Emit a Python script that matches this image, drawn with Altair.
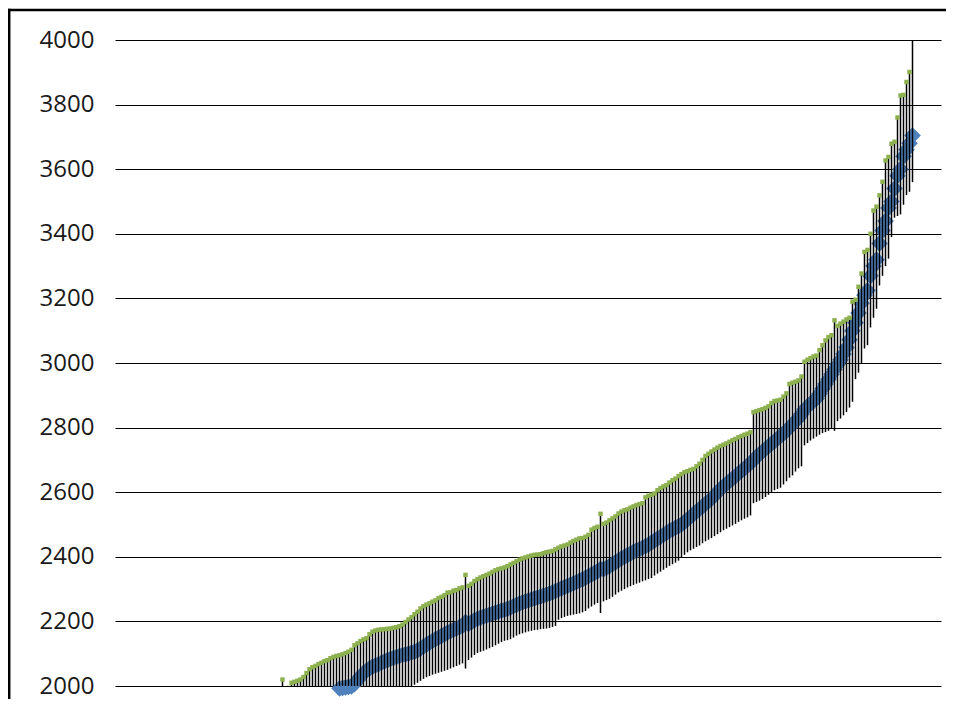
import altair as alt
import pandas as pd

start_index = 56

highs = [
    2020, 1988, 1994, 2010, 2013, 2016, 2020, 2028, 2040, 2052,
    2058, 2062, 2068, 2072, 2077, 2080, 2086, 2090, 2093, 2095,
    2098, 2102, 2106, 2112, 2126, 2132, 2139, 2144, 2148, 2160,
    2168, 2172, 2174, 2175, 2176, 2177, 2178, 2180, 2182, 2185,
    2190, 2198, 2206, 2213, 2222, 2230, 2240, 2247, 2252, 2256,
    2261, 2265, 2272, 2276, 2281, 2289, 2290, 2295, 2297, 2302,
    2305, 2344, 2310, 2316, 2325, 2331, 2336, 2340, 2344, 2348,
    2353, 2358, 2362, 2364, 2367, 2371, 2376, 2381, 2386, 2391,
    2395, 2398, 2401, 2404, 2406, 2407, 2408, 2411, 2414, 2416,
    2418, 2423, 2428, 2432, 2435, 2438, 2444, 2449, 2453, 2457,
    2458, 2462, 2468, 2484, 2489, 2493, 2533, 2502, 2506, 2513,
    2519, 2525, 2534, 2540, 2544, 2547, 2552, 2556, 2560, 2563,
    2566, 2584, 2589, 2592, 2596, 2606, 2613, 2618, 2622, 2630,
    2637, 2642, 2650, 2656, 2662, 2665, 2669, 2672, 2680, 2688,
    2700, 2712, 2719, 2726, 2732, 2738, 2743, 2747, 2751, 2756,
    2761, 2765, 2770, 2774, 2778, 2781, 2786, 2848, 2851, 2854,
    2857, 2861, 2866, 2876, 2882, 2884, 2886, 2896, 2906, 2935,
    2939, 2942, 2946, 2958, 3004, 3010, 3015, 3020, 3023, 3040,
    3055, 3070, 3080, 3086, 3132, 3115, 3122, 3128, 3135, 3140,
    3190, 3196, 3236, 3277, 3344, 3350, 3400, 3472, 3484, 3519,
    3561, 3627, 3638, 3679, 3685, 3760, 3828, 3830, 3870, 3901,
    4060,
]

lows = [
    1790, 1772, 1778, 1795, 1798, 1800, 1804, 1810, 1820, 1832,
    1840, 1845, 1850, 1855, 1860, 1864, 1869, 1873, 1877, 1880,
    1884, 1888, 1892, 1897, 1905, 1911, 1917, 1922, 1927, 1935,
    1942, 1947, 1951, 1955, 1958, 1961, 1964, 1967, 1970, 1974,
    1979, 1984, 1988, 1995, 2004, 2010, 2016, 2022, 2027, 2031,
    2035, 2038, 2041, 2044, 2047, 2050, 2054, 2058, 2062, 2066,
    2070, 2054, 2080, 2088, 2096, 2102, 2106, 2109, 2113, 2117,
    2121, 2126, 2131, 2136, 2140, 2142, 2145, 2150, 2156, 2160,
    2163, 2166, 2169, 2171, 2173, 2174, 2176, 2177, 2178, 2180,
    2183, 2186, 2205, 2210, 2214, 2217, 2219, 2221, 2223, 2225,
    2228, 2232, 2240, 2246, 2252, 2257, 2226, 2262, 2266, 2270,
    2276, 2283, 2290, 2295, 2300, 2305, 2309, 2313, 2317, 2320,
    2324, 2327, 2331, 2334, 2342, 2348, 2354, 2360, 2366, 2372,
    2377, 2382, 2388, 2398, 2406, 2414, 2420, 2425, 2430, 2435,
    2442, 2448, 2453, 2458, 2464, 2470, 2476, 2482, 2487, 2492,
    2497, 2502, 2508, 2513, 2518, 2522, 2528, 2566, 2570, 2574,
    2579, 2585, 2592, 2600, 2606, 2610, 2614, 2624, 2634, 2645,
    2652, 2664, 2674, 2680, 2745, 2752, 2760, 2766, 2772, 2778,
    2783, 2786, 2790, 2798, 2790, 2820, 2828, 2838, 2848, 2862,
    2880, 2950, 2970, 3000, 3045, 3055, 3110, 3140, 3168, 3240,
    3270, 3300, 3323, 3390, 3450, 3455, 3460, 3490, 3520, 3530,
    3560,
]

means = [
    None, None, None, None, None, None, None, None, None, None,
    None, None, None, None, None, None, None, None, None, 1993,
    1994, 1996, 1997, 1999, 2006, 2018, 2030, 2040, 2048, 2054,
    2060, 2064, 2068, 2072, 2076, 2080, 2084, 2087, 2090, 2093,
    2096, 2098, 2100, 2103, 2106, 2110, 2116, 2122, 2128, 2134,
    2140, 2145, 2150, 2155, 2160, 2165, 2170, 2174, 2178, 2182,
    2186, 2198, 2192, 2198, 2204, 2208, 2212, 2215, 2218, 2221,
    2224, 2227, 2230, 2233, 2236, 2239, 2243, 2247, 2251, 2255,
    2259, 2262, 2265, 2268, 2271, 2274, 2277, 2280, 2283, 2286,
    2290, 2294, 2298, 2302, 2306, 2310, 2314, 2318, 2322, 2326,
    2330, 2335, 2340, 2345, 2350, 2355, 2362, 2362, 2366, 2371,
    2377, 2383, 2389, 2395, 2400, 2405, 2410, 2415, 2420, 2424,
    2428, 2433, 2438, 2444, 2450, 2456, 2462, 2468, 2474, 2480,
    2485, 2490, 2495, 2500, 2508, 2516, 2524, 2532, 2540, 2548,
    2556, 2564, 2572, 2580, 2590, 2600, 2610, 2618, 2626, 2634,
    2642, 2650, 2658, 2666, 2674, 2682, 2690, 2700, 2710, 2718,
    2726, 2734, 2742, 2750, 2758, 2766, 2774, 2782, 2790, 2800,
    2810, 2820, 2830, 2842, 2856, 2866, 2874, 2882, 2890, 2905,
    2920, 2935, 2950, 2965, 2980, 2995, 3010, 3028, 3048, 3072,
    3100, 3125, 3155, 3185, 3210, 3225, 3270, 3300, 3320, 3370,
    3410, 3440, 3480, 3500, 3540, 3580, 3600, 3640, 3660, 3680,
    3704,
]

y_ticks = [2000, 2200, 2400, 2600, 2800, 3000, 3200, 3400, 3600, 3800, 4000]

idx = list(range(start_index, start_index + len(highs)))
df = pd.DataFrame({"i": idx, "high": highs, "low": lows, "mean": means})

W, H = 826, 646
PAD = {"left": 107, "top": 32, "right": 5, "bottom": 13}

xs = alt.Scale(domain=[0.17, 275.5], nice=False, zero=False)
ys = alt.Scale(domain=[2000, 4000], nice=False, zero=False)
yaxis = alt.Axis(values=y_ticks, format="d", grid=True, gridColor="#000000",
                 gridWidth=1, domain=False, ticks=False, labelFont="Open Sans",
                 labelFontSize=24, labelColor="#1a1a1a", labelPadding=21,
                 title=None)

base = alt.Chart(df)
one = pd.DataFrame({"a": [0]})

border_top = alt.Chart(one).mark_rule(color="black", strokeWidth=2.5).encode(
    x=alt.value(-107), x2=alt.value(W + 5), y=alt.value(-30),
)
border_left = alt.Chart(one).mark_rule(color="black", strokeWidth=2.5).encode(
    x=alt.value(-105.8), y=alt.value(-31.2), y2=alt.value(H + 13),
)

diamonds = base.transform_filter("isValid(datum.mean)").mark_point(
    shape="diamond", filled=True, size=280, color="#4F81BD", opacity=1
).encode(
    x=alt.X("i:Q", scale=xs, axis=None),
    y=alt.Y("mean:Q", scale=ys, axis=yaxis),
)

rules = base.mark_rule(color="black", strokeWidth=1.5, clip=True).encode(
    x=alt.X("i:Q", scale=xs, axis=None),
    y=alt.Y("low:Q", scale=ys, axis=yaxis),
    y2="high:Q",
)

greens = base.mark_point(
    shape="square", filled=True, size=20, color="#8DB150", opacity=1, clip=True
).encode(
    x=alt.X("i:Q", scale=xs, axis=None),
    y=alt.Y("high:Q", scale=ys, axis=yaxis),
)

chart = alt.layer(border_top, border_left, diamonds, rules, greens).properties(
    width=W, height=H, padding=PAD,
    autosize=alt.AutoSizeParams(type="none"),
    background="white",
).configure_view(stroke=None)

chart.save("out.html", embed_options={"renderer": "svg", "actions": False})
